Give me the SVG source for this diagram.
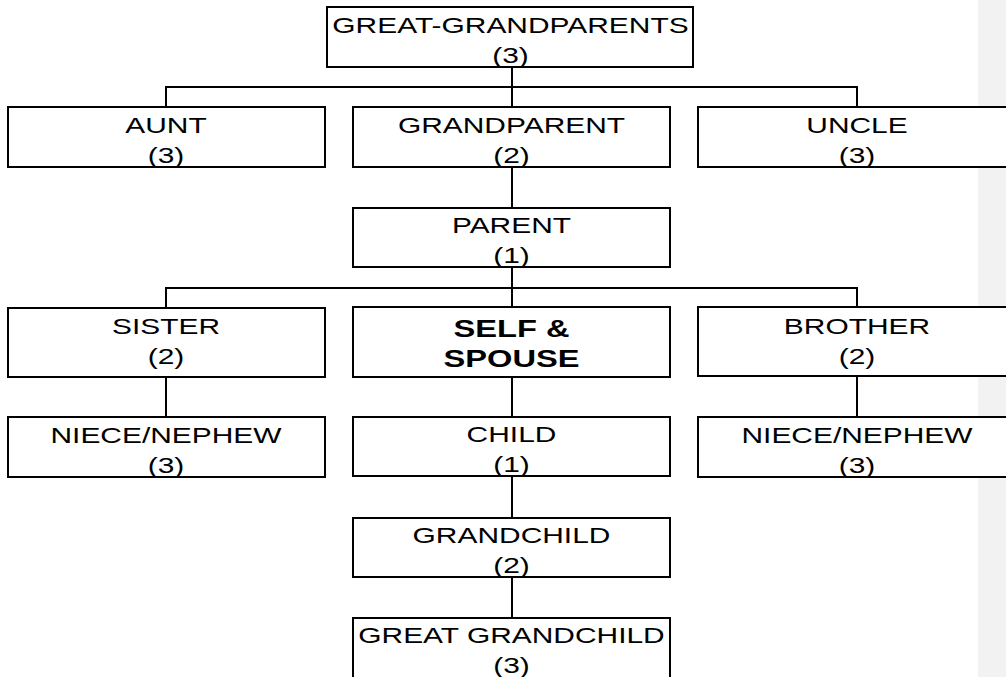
<svg xmlns="http://www.w3.org/2000/svg" width="1006" height="677" viewBox="0 0 1006 677">
<style>
.box{fill:#fff;stroke:#000;stroke-width:2}
.t{font-family:"Liberation Sans",Arial,sans-serif;font-size:22.5px;fill:#000;text-anchor:middle}
.b{font-family:"Liberation Sans",Arial,sans-serif;font-size:24px;font-weight:bold;fill:#000;text-anchor:middle}
.c{stroke:#000;stroke-width:2;fill:none}
</style>
<rect x="0" y="0" width="1006" height="677" fill="#fff"/>
<rect x="978" y="0" width="28" height="677" fill="#f2f2f2"/>
<g id="connectors">
<path class="c" d="M512 67V107M166 87H857M166 86V107M857 86V107M512 167V208M512 267V307M166 288H857M166 287V308M857 287V307M166 377V417M512 377V417M857 376V417M512 476V518M512 577V618"/>
</g>
<g id="great-grandparents">
<rect class="box" x="327" y="7" width="366" height="60"/>
<text class="t" transform="matrix(1.33 0 0 1 510.5 32.5)">GREAT-GRANDPARENTS</text>
<text class="t" transform="matrix(1.33 0 0 1 510.5 62.5)">(3)</text>
</g>
<g id="aunt">
<rect class="box" x="8" y="107" width="317" height="60"/>
<text class="t" transform="matrix(1.33 0 0 1 166 132.5)">AUNT</text>
<text class="t" transform="matrix(1.33 0 0 1 166 162.5)">(3)</text>
</g>
<g id="grandparent">
<rect class="box" x="353" y="107" width="317" height="60"/>
<text class="t" transform="matrix(1.33 0 0 1 511.5 132.5)">GRANDPARENT</text>
<text class="t" transform="matrix(1.33 0 0 1 511.5 162.5)">(2)</text>
</g>
<g id="uncle">
<rect class="box" x="698" y="107" width="320" height="60"/>
<text class="t" transform="matrix(1.33 0 0 1 857 132.5)">UNCLE</text>
<text class="t" transform="matrix(1.33 0 0 1 857 162.5)">(3)</text>
</g>
<g id="parent">
<rect class="box" x="353" y="208" width="317" height="59"/>
<text class="t" transform="matrix(1.33 0 0 1 511.5 232.5)">PARENT</text>
<text class="t" transform="matrix(1.33 0 0 1 511.5 262.5)">(1)</text>
</g>
<g id="sister">
<rect class="box" x="8" y="308" width="317" height="69"/>
<text class="t" transform="matrix(1.33 0 0 1 166 333.5)">SISTER</text>
<text class="t" transform="matrix(1.33 0 0 1 166 363.5)">(2)</text>
</g>
<g id="self-spouse">
<rect class="box" x="353" y="307" width="317" height="70"/>
<text class="b" transform="matrix(1.36 0 0 1 511.5 337)">SELF &amp;</text>
<text class="b" transform="matrix(1.36 0 0 1 511.5 367)">SPOUSE</text>
</g>
<g id="brother">
<rect class="box" x="698" y="307" width="320" height="69"/>
<text class="t" transform="matrix(1.33 0 0 1 857 333.5)">BROTHER</text>
<text class="t" transform="matrix(1.33 0 0 1 857 363.5)">(2)</text>
</g>
<g id="niece-nephew-left">
<rect class="box" x="8" y="417" width="317" height="60"/>
<text class="t" transform="matrix(1.33 0 0 1 166 442.5)">NIECE/NEPHEW</text>
<text class="t" transform="matrix(1.33 0 0 1 166 472.5)">(3)</text>
</g>
<g id="child">
<rect class="box" x="353" y="417" width="317" height="59"/>
<text class="t" transform="matrix(1.33 0 0 1 511.5 441.5)">CHILD</text>
<text class="t" transform="matrix(1.33 0 0 1 511.5 471.5)">(1)</text>
</g>
<g id="niece-nephew-right">
<rect class="box" x="698" y="417" width="320" height="60"/>
<text class="t" transform="matrix(1.33 0 0 1 857 442.5)">NIECE/NEPHEW</text>
<text class="t" transform="matrix(1.33 0 0 1 857 472.5)">(3)</text>
</g>
<g id="grandchild">
<rect class="box" x="353" y="518" width="317" height="59"/>
<text class="t" transform="matrix(1.33 0 0 1 511.5 542.5)">GRANDCHILD</text>
<text class="t" transform="matrix(1.33 0 0 1 511.5 572.5)">(2)</text>
</g>
<g id="great-grandchild">
<rect class="box" x="353" y="618" width="317" height="80"/>
<text class="t" transform="matrix(1.33 0 0 1 511.5 642.5)">GREAT GRANDCHILD</text>
<text class="t" transform="matrix(1.33 0 0 1 511.5 672.5)">(3)</text>
</g>
</svg>
